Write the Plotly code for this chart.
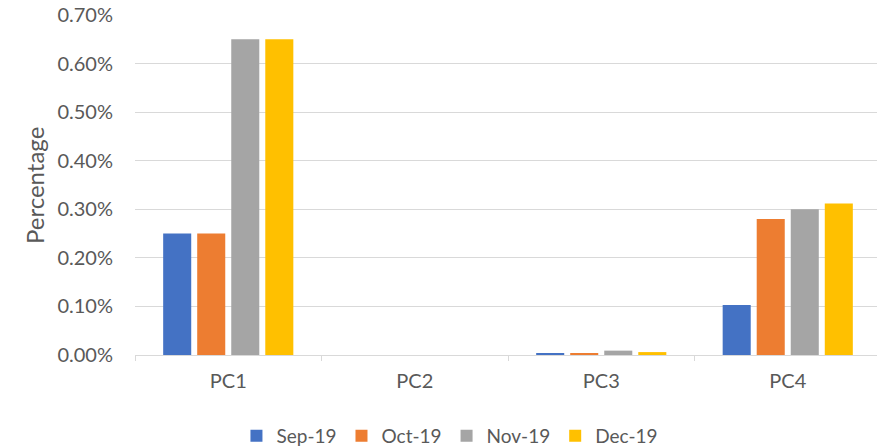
import plotly.graph_objects as go

categories = ["PC1", "PC2", "PC3", "PC4"]
series_names = ["Sep-19", "Oct-19", "Nov-19", "Dec-19"]
sep_19 = [0.0025, 0.0, 0.00003, 0.00103]
oct_19 = [0.0025, 0.0, 0.00003, 0.0028]
nov_19 = [0.0065, 0.0, 0.00009, 0.0030]
dec_19 = [0.0065, 0.0, 0.00006, 0.00312]
y_ticks = [0, 0.001, 0.002, 0.003, 0.004, 0.005, 0.006, 0.007]

colors = ["#4472C4", "#ED7D31", "#A5A5A5", "#FFC000"]
font_family = "Lato, 'Open Sans', sans-serif"
text_color = "#595959"

fig = go.Figure()
for name, vals, c in zip(series_names, [sep_19, oct_19, nov_19, dec_19], colors):
    fig.add_trace(go.Bar(name=name, x=categories, y=vals, marker_color=c,
                         marker_line_width=0))

# plot area deliberately runs past the right edge of the 877px window, like the reference
fig.update_layout(
    autosize=False, width=885, height=448,
    margin=dict(l=135, r=4, t=15, b=93, autoexpand=False),
    paper_bgcolor="white", plot_bgcolor="white",
    barmode="group", bargap=0.27, bargroupgap=0.176,
    font=dict(family=font_family, size=20, color=text_color),
    legend=dict(orientation="h", x=0.136, xanchor="left", y=-0.238, yanchor="middle",
                font=dict(size=19, color=text_color), itemwidth=30,
                traceorder="normal"),
    xaxis=dict(showline=True, linecolor="#D9D9D9", linewidth=1, automargin=False,
               ticks="outside", tickson="boundaries", ticklen=5, tickcolor="#D9D9D9",
               ticklabelstandoff=8,
               showgrid=False, tickfont=dict(size=20, color=text_color)),
    yaxis=dict(range=[0, 0.007], tickvals=y_ticks, tickformat=".2%", automargin=False,
               showgrid=True, gridcolor="#D9D9D9", gridwidth=1,
               zeroline=False, showline=False, ticks="",
               ticklabelstandoff=21,
               tickfont=dict(size=20, color=text_color)),
    annotations=[dict(text="Percentage", textangle=-90, xref="paper", yref="paper",
                      x=-0.1354, y=0.5, xanchor="center", yanchor="middle",
                      showarrow=False, font=dict(size=24, color=text_color))],
)

fig.write_html("out.html", config={"displayModeBar": False},
               post_script="document.body.style.margin='0';document.body.style.overflow='hidden';")
